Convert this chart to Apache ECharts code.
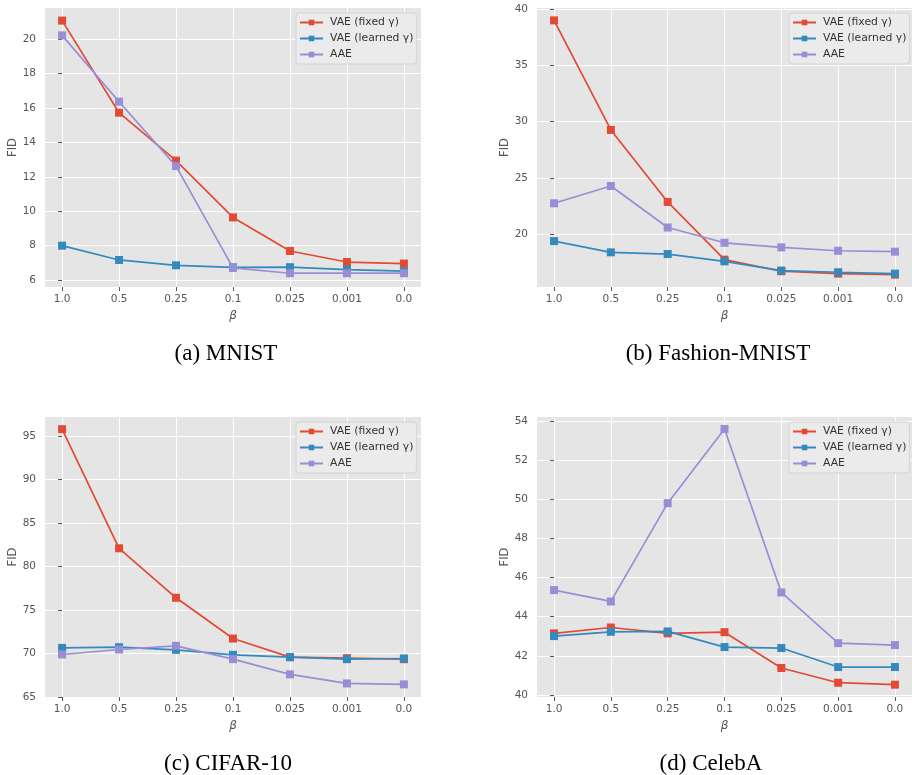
<!DOCTYPE html>
<html><head><meta charset="utf-8">
<script src="https://cdn.jsdelivr.net/npm/echarts@6/dist/echarts.min.js"></script>
<style>html,body{margin:0;padding:0;background:#fff}#c{width:912px;height:775px}</style>
</head><body><div id="c"></div>
<script>
const betaLabels = ['1.0','0.5','0.25','0.1','0.025','0.001','0.0'];
const seriesNames = ['VAE (fixed γ)','VAE (learned γ)','AAE'];
const captions = ['(a) MNIST','(b) Fashion-MNIST','(c) CIFAR-10','(d) CelebA'];

const mnistFixed   = [21.07,15.72,12.94,9.64,7.69,7.05,6.96];
const mnistLearned = [8.00,7.17,6.86,6.74,6.75,6.61,6.52];
const mnistAAE     = [20.21,16.36,12.62,6.71,6.40,6.40,6.40];

const fashionFixed   = [39.0,29.26,22.86,17.73,16.70,16.49,16.40];
const fashionLearned = [19.38,18.38,18.23,17.58,16.76,16.61,16.49];
const fashionAAE     = [22.74,24.28,20.59,19.23,18.82,18.52,18.44];

const cifarFixed   = [95.80,82.10,76.41,71.72,69.58,69.47,69.35];
const cifarLearned = [70.65,70.73,70.42,69.85,69.58,69.35,69.43];
const cifarAAE     = [69.89,70.46,70.88,69.35,67.60,66.56,66.45];

const celebaFixed   = [43.15,43.45,43.15,43.21,41.38,40.63,40.53];
const celebaLearned = [43.01,43.23,43.25,42.45,42.40,41.43,41.43];
const celebaAAE     = [45.36,44.78,49.80,53.59,45.24,42.65,42.55];

const mnistTicks   = [6,8,10,12,14,16,18,20];
const fashionTicks = [20,25,30,35,40];
const cifarTicks   = [65,70,75,80,85,90,95];
const celebaTicks  = [40,42,44,46,48,50,52,54];

const panels = [
  {data:[mnistFixed,mnistLearned,mnistAAE], ticks:mnistTicks, ymin:5.6, ymax:21.8,
   grid:{left:45,top:8,width:376,height:279}, legend:{left:296,top:13}, cap:[226,354]},
  {data:[fashionFixed,fashionLearned,fashionAAE], ticks:fashionTicks, ymin:15.3, ymax:40.1,
   grid:{left:537,top:8,width:377,height:279}, legend:{left:789,top:13}, cap:[718,354]},
  {data:[cifarFixed,cifarLearned,cifarAAE], ticks:cifarTicks, ymin:65.0, ymax:97.2,
   grid:{left:45,top:417,width:376,height:280}, legend:{left:296,top:422}, cap:[228,764]},
  {data:[celebaFixed,celebaLearned,celebaAAE], ticks:celebaTicks, ymin:39.9, ymax:54.2,
   grid:{left:537,top:417,width:377,height:280}, legend:{left:789,top:422}, cap:[711,764]}
];
const colors = ['#E24A33','#348ABD','#988ED5'];
const idx = betaLabels.map((_,i)=>i);
const tickFont = {color:'#555555', fontFamily:'DejaVu Sans', fontSize:10.5};

const option = {
  animation:false,
  backgroundColor:'#ffffff',
  color:colors,
  grid:[], xAxis:[], yAxis:[], series:[], legend:[], graphic:[]
};
panels.forEach((p,k)=>{
  option.grid.push(Object.assign({show:true, backgroundColor:'#E5E5E5', borderWidth:0}, p.grid));
  option.xAxis.push({
    type:'value', gridIndex:k, min:-0.3, max:6.3,
    name:'β', nameLocation:'middle', nameGap:23,
    nameTextStyle:{color:'#555555', fontFamily:'DejaVu Sans', fontSize:12, fontStyle:'italic'},
    axisLine:{show:false},
    axisTick:{show:true, length:4, lineStyle:{color:'#555555'}, customValues:idx},
    axisLabel:Object.assign({customValues:idx, margin:7, formatter:v=>betaLabels[Math.round(v)]}, tickFont),
    splitLine:{show:true, lineStyle:{color:'#ffffff', width:1}}
  });
  option.yAxis.push({
    type:'value', gridIndex:k, min:p.ymin, max:p.ymax,
    name:'FID', nameLocation:'middle', nameGap:26,
    nameTextStyle:{color:'#555555', fontFamily:'DejaVu Sans', fontSize:11.5},
    axisLine:{show:false},
    axisTick:{show:true, length:4, lineStyle:{color:'#555555'}, customValues:p.ticks},
    axisLabel:Object.assign({customValues:p.ticks, margin:9}, tickFont),
    splitLine:{show:true, lineStyle:{color:'#ffffff', width:1}}
  });
  p.data.forEach((arr,s)=>{
    option.series.push({
      type:'line', name:seriesNames[s], xAxisIndex:k, yAxisIndex:k,
      data:arr.map((v,i)=>[i,v]),
      symbol:'rect', symbolSize:8, showAllSymbol:true,
      lineStyle:{width:1.7, color:colors[s]},
      itemStyle:{color:colors[s]},
      z:2+s
    });
  });
  option.legend.push({
    data:seriesNames, orient:'vertical', left:p.legend.left, top:p.legend.top,
    backgroundColor:'#EBEBEB', borderColor:'#D3D3D3', borderWidth:1, borderRadius:3,
    padding:[4,3,4,3], itemGap:5, itemWidth:23, itemHeight:7,
    textStyle:{color:'#333333', fontFamily:'DejaVu Sans', fontSize:10.8, padding:[0,0,0,2]}
  });
  option.graphic.push({
    type:'text', x:p.cap[0], y:p.cap[1],
    style:{text:captions[k], fill:'#000', font:'23px "Liberation Serif"', textAlign:'center', textVerticalAlign:'middle'}
  });
});
const chart = echarts.init(document.getElementById('c'), null, {renderer:'canvas'});
chart.setOption(option);
</script></body></html>
